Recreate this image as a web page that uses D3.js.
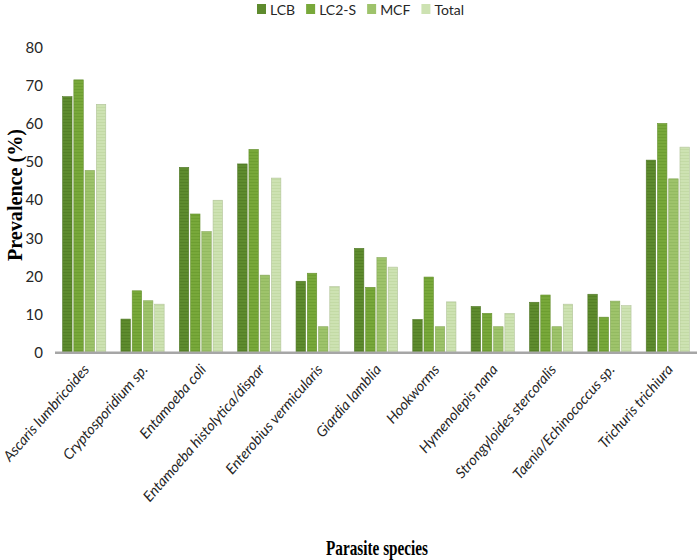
<!DOCTYPE html>
<html><head><meta charset="utf-8">
<script src="https://cdn.jsdelivr.net/npm/d3@7"></script>
<style>body{margin:0;background:#fff}svg{display:block}</style>
</head><body>
<svg id="c" width="700" height="560"></svg>
<script>
const categories = ["Ascaris lumbricoides","Cryptosporidium sp.","Entamoeba coli","Entamoeba histolytica/dispar","Enterobius vermicularis","Giardia lamblia","Hookworms","Hymenolepis nana","Strongyloides stercoralis","Taenia/Echinococcus sp.","Trichuris trichiura"];
const seriesNames = ["LCB","LC2-S","MCF","Total"];
const LCB   = [67.0, 8.8, 48.5, 49.4, 18.7, 27.3, 8.7, 12.1, 13.2, 15.3, 50.4];
const LC2S  = [71.4, 16.2, 36.3, 53.2, 20.8, 17.1, 19.8, 10.3, 15.1, 9.3, 60.0];
const MCF   = [47.7, 13.6, 31.7, 20.3, 6.8, 24.9, 6.8, 6.8, 6.8, 13.5, 45.5];
const Total = [65.0, 12.7, 39.9, 45.7, 17.3, 22.4, 13.3, 10.3, 12.7, 12.3, 53.8];
const yTicks = [0,10,20,30,40,50,60,70,80];

const seriesValues = [LCB, LC2S, MCF, Total];
const colors = ["#5e8b2e","#78a83a","#9ec36b","#cde2b2"];
const stripe = ["#4d7822","#66972c","#8cb45a","#bdd69d"];
const svg = d3.select("#c");

const defs = svg.append("defs");
seriesNames.forEach((s,i)=>{
  const p = defs.append("pattern").attr("id","p"+i).attr("patternUnits","userSpaceOnUse")
    .attr("width",4).attr("height",3);
  p.append("rect").attr("width",4).attr("height",3).attr("fill",colors[i]);
  p.append("rect").attr("y",2).attr("width",4).attr("height",1).attr("fill",stripe[i]).attr("opacity",0.6);
});

const x0 = d3.scaleBand().domain(categories).range([55,697]).paddingInner(0.26).paddingOuter(0.13);
const x1 = d3.scaleBand().domain(seriesNames).range([0,x0.bandwidth()]).paddingInner(0.16);
const y = d3.scaleLinear().domain([0,80]).range([352.7,47]);

// bars
const rows = categories.map((c,ci)=>({c, vals: seriesNames.map((s,si)=>({s, si, v: seriesValues[si][ci]}))}));
const g = svg.append("g");
g.selectAll("g.cat").data(rows).join("g").attr("class","cat")
 .attr("transform",d=>`translate(${x0(d.c)},0)`)
 .selectAll("rect").data(d=>d.vals).join("rect")
 .attr("x",d=>x1(d.s)).attr("width",x1.bandwidth())
 .attr("y",d=>y(d.v)).attr("height",d=>y(0)-y(d.v))
 .attr("fill",d=>`url(#p${d.si})`)
 .attr("stroke",d=>d3.color(colors[d.si]).darker(0.4)).attr("stroke-width",0.6);

// x axis line
svg.append("line").attr("x1",55).attr("x2",697).attr("y1",y(0)).attr("y2",y(0))
  .attr("stroke","#a6a6a6").attr("stroke-width",2.5);

// y ticks
const ya = svg.append("g").attr("transform","translate(43,0)")
  .call(d3.axisLeft(y).tickValues(yTicks).tickSize(0).tickPadding(0));
ya.select(".domain").remove();
ya.selectAll("text").attr("font-family","Lato, 'Open Sans', sans-serif").attr("font-size",15).attr("fill","#262626").attr("dy","0.34em");

// x labels
svg.append("g").selectAll("text").data(categories).join("text")
  .attr("transform",d=>`translate(${x0(d)+x0.bandwidth()/2+6},370) rotate(-49)`)
  .attr("text-anchor","end").attr("font-family","Lato, 'Open Sans', sans-serif")
  .attr("font-style","italic")
  .attr("font-size",14.5).attr("fill","#262626").text(d=>d);

// titles
svg.append("text").attr("transform","translate(22,195) rotate(-90)")
  .attr("text-anchor","middle").attr("font-family","'Liberation Serif', 'DejaVu Serif', serif")
  .attr("font-weight","bold").attr("font-size",20).attr("textLength",132).attr("lengthAdjust","spacingAndGlyphs")
  .text("Prevalence (%)");
svg.append("text").attr("x",377).attr("y",555)
  .attr("text-anchor","middle").attr("font-family","'Liberation Serif', 'DejaVu Serif', serif")
  .attr("font-weight","bold").attr("font-size",21).attr("textLength",102).attr("lengthAdjust","spacingAndGlyphs")
  .text("Parasite species");

// legend
let lx = 257;
const leg = svg.append("g");
seriesNames.forEach((s,i)=>{
  leg.append("rect").attr("x",lx).attr("y",4).attr("width",9).attr("height",10).attr("fill",colors[i]);
  const t = leg.append("text").attr("x",lx+13).attr("y",14.5).attr("font-family","Lato, 'Open Sans', sans-serif")
    .attr("font-size",14).attr("fill","#262626").text(s);
  lx += 13 + t.node().getComputedTextLength() + 11;
});
</script>
</body></html>
